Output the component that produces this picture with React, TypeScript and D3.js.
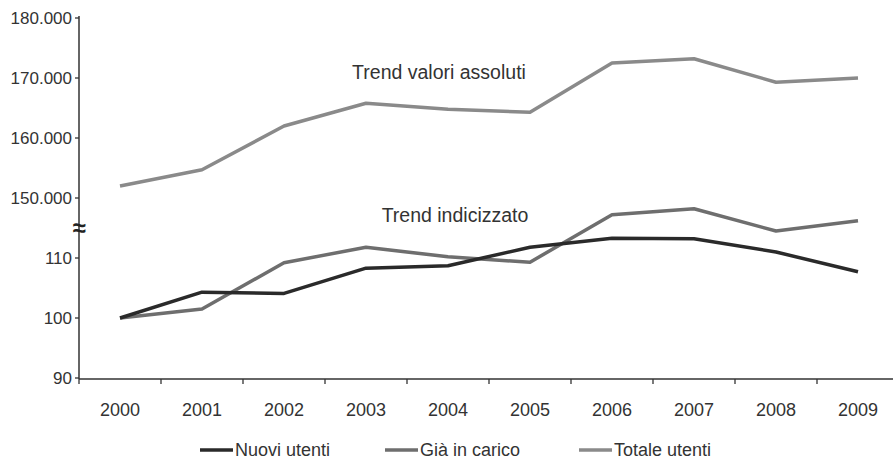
import React from "react";
import * as d3 from "d3";

const years = ["2000", "2001", "2002", "2003", "2004", "2005", "2006", "2007", "2008", "2009"];

// index series (base 2000 = 100)
const nuoviUtenti = [100, 104.3, 104.1, 108.3, 108.7, 111.8, 113.3, 113.2, 111.0, 107.7];
const giaInCarico = [100, 101.5, 109.2, 111.8, 110.2, 109.3, 117.2, 118.2, 114.5, 116.2];

// absolute series
const totaleUtenti = [152000, 154700, 162000, 165800, 164800, 164300, 172500, 173200, 169300, 170000];

const absTicks = [150000, 160000, 170000, 180000];
const idxTicks = [90, 100, 110];

const legendItems = [
  { label: "Nuovi utenti", color: "#2a2a2a" },
  { label: "Già in carico", color: "#6e6e6e" },
  { label: "Totale utenti", color: "#8a8a8a" },
];

const W = 893;
const H = 461;
const axisX = 79;
const axisBottom = 379;
const font = "Liberation Sans, Arial, sans-serif";

const fmtAbs = d3.formatLocale({ decimal: ",", thousands: ".", grouping: [3], currency: ["€", ""] }).format(",.0f");

export default function App() {
  const x = d3.scaleBand<string>().domain(years).range([axisX, axisX + 820]).padding(0);
  const cx = (y: string) => x(y)! + x.bandwidth() / 2;

  // two linear scales sharing the same axis, separated by a break
  const yIdx = d3.scaleLinear().domain([90, 110]).range([378, 258]);
  const yAbs = d3.scaleLinear().domain([150000, 180000]).range([198, 18]);

  const lineIdx = d3.line<number>().x((_, i) => cx(years[i])).y((d) => yIdx(d));
  const lineAbs = d3.line<number>().x((_, i) => cx(years[i])).y((d) => yAbs(d));

  return (
    <svg width={W} height={H} style={{ position: "absolute", left: 0, top: 0, background: "#fff" }} fontFamily={font}>
      {/* y axis */}
      <line x1={axisX} x2={axisX} y1={16} y2={axisBottom} stroke="#333" strokeWidth={1.5} />
      {absTicks.map((t) => (
        <g key={t}>
          <line x1={axisX - 4} x2={axisX} y1={yAbs(t)} y2={yAbs(t)} stroke="#333" strokeWidth={1.3} />
          <text x={axisX - 7} y={yAbs(t)} dy="0.35em" textAnchor="end" fontSize={17} fill="#333">
            {fmtAbs(t)}
          </text>
        </g>
      ))}
      {idxTicks.map((t) => (
        <g key={t}>
          <line x1={axisX - 4} x2={axisX} y1={yIdx(t)} y2={yIdx(t)} stroke="#333" strokeWidth={1.3} />
          <text x={axisX - 7} y={yIdx(t)} dy="0.35em" textAnchor="end" fontSize={17} fill="#333">
            {t}
          </text>
        </g>
      ))}
      {/* axis break */}
      <text x={axisX} y={228} dy="0.35em" textAnchor="middle" fontSize={24} fontWeight="bold" fill="#222">
        ≈
      </text>

      {/* x axis */}
      <line x1={axisX} x2={W} y1={axisBottom} y2={axisBottom} stroke="#333" strokeWidth={1.5} />
      {years.map((yr) => (
        <g key={yr}>
          <line x1={x(yr)!} x2={x(yr)!} y1={axisBottom} y2={axisBottom + 5} stroke="#333" strokeWidth={1.3} />
          <text x={cx(yr)} y={410} dy="0.35em" textAnchor="middle" fontSize={18} fill="#333">
            {yr}
          </text>
        </g>
      ))}

      {/* series */}
      <path d={lineAbs(totaleUtenti)!} fill="none" stroke={legendItems[2].color} strokeWidth={3.5} strokeLinejoin="round" />
      <path d={lineIdx(giaInCarico)!} fill="none" stroke={legendItems[1].color} strokeWidth={3.5} strokeLinejoin="round" />
      <path d={lineIdx(nuoviUtenti)!} fill="none" stroke={legendItems[0].color} strokeWidth={3.5} strokeLinejoin="round" />

      {/* annotations */}
      <text x={439} y={72} dy="0.35em" textAnchor="middle" fontSize={19.5} fill="#333">
        Trend valori assoluti
      </text>
      <text x={455} y={215} dy="0.35em" textAnchor="middle" fontSize={19.5} fill="#333">
        Trend indicizzato
      </text>

      {/* legend */}
      {legendItems.map((it, i) => {
        const lx = [200, 385, 579][i];
        return (
          <g key={it.label}>
            <line x1={lx} x2={lx + 33} y1={450} y2={450} stroke={it.color} strokeWidth={3.5} />
            <text x={lx + 35} y={450} dy="0.35em" fontSize={18} fill="#333">
              {it.label}
            </text>
          </g>
        );
      })}
    </svg>
  );
}
